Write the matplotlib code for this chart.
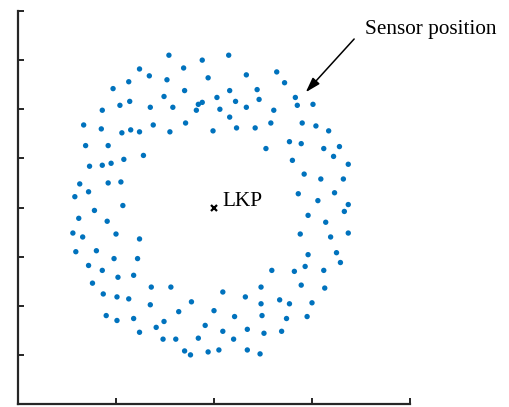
import matplotlib
matplotlib.use("Agg")
import matplotlib.pyplot as plt
import numpy as np

# sensor positions around the last known position (LKP)
sensor_x = [
    -46, -76, -66, -48, -87, -103, -51, -86, -96, -65, -114, -133, -115, -94, -85, -76, -62, -45,
    15, -12, -31, 33, 64, -6, 72, -30, 16, 44, 3, 46, 83, 22, -12, -16, -18, -42, 6, 33, 61, 85,
    101, 16, -29, 58, 90, 104, 117, -1, 23, 42,
    -131, -108, -72, -92, -105, -114, -127, -137, -108, -95, -128, -142, -93, -122, -138, -109,
    -144, -134, -100, -76, -141, -120, -102, -78, -128, -114,
    53, 77, 89, 112, 122, 128, 80, 92, 109, 86, 106, 123, 96, 114, 88, 119, 96, 125, 129, 93,
    112, 82, 59,
    137, 132, 137, 133, 137,
    -98, -82, -124, -64, -113, -99, -87, -65, -110, -99, -82, -76, -59, -51, -52,
    -44, 9, 48, 89, 113, -23, 32, 48, 67, 77, 100, -36, 0, 21, 49, 74, 95, -9, -39, -16, 9, 34,
    20, 51, 69, -30, -24, -6, 5, 34, 47,
]
sensor_y = [
    155, 141, 134, 130, 128, 121, 113, 108, 104, 102, 99, 84, 80, 76, 79, 77, 84, 77,
    155, 150, 142, 135, 138, 132, 127, 119, 119, 120, 112, 110, 112, 108, 107, 105, 99, 102, 100,
    102, 99, 104, 105, 92, 86, 86, 86, 83, 78, 78, 81, 81,
    63, 63, 53, 49, 45, 43, 42, 24, 25, 26, 16, 11, 2, -3, -11, -14, -26, -30, -27, -32, -45,
    -44, -52, -52, -59, -64,
    60, 67, 65, 60, 52, 62, 48, 34, 29, 14, 7, 15, -8, -15, -27, -30, -48, -46, -56, -60, -64,
    -65, -64,
    44, 29, 3, -4, -26,
    -71, -69, -77, -81, -88, -91, -93, -99, -110, -115, -113, -127, -122, -116, -134,
    -81, -86, -81, -79, -82, -96, -91, -98, -94, -98, -97, -106, -105, -111, -110, -113, -111,
    -120, -134, -133, -126, -124, -134, -128, -126, -146, -150, -147, -145, -145, -149,
]
lkp = (0, 0)

plt.rcParams["font.family"] = ["Liberation Serif", "DejaVu Serif"]

fig = plt.figure(figsize=(5.1, 4.07), dpi=100)
ax = fig.add_axes([18 / 510, 3 / 407, 392 / 510, 393 / 407])

ax.scatter(sensor_x, sensor_y, s=15, color="#0072BD", edgecolors="none", zorder=3)
ax.plot(lkp[0], lkp[1], marker="x", color="black", markersize=4.5, mew=1.6, zorder=4)
ax.text(lkp[0] + 9, lkp[1] + 1.5, "LKP", fontsize=15.3, ha="left", va="baseline")

ax.text(154, 177, "Sensor position", fontsize=15.3, ha="left", va="baseline")
ax.annotate("", xy=(93.6, 117.3), xytext=(143, 171.5),
            arrowprops=dict(arrowstyle="-|>,head_length=0.9,head_width=0.28",
                            color="black", lw=1.1, shrinkA=0, shrinkB=0))

ax.set_xlim(-200, 200)
ax.set_ylim(-200, 200)
ax.set_xticks(np.arange(-200, 201, 100))
ax.set_yticks(np.arange(-200, 201, 50))
ax.set_xticklabels([])
ax.set_yticklabels([])
ax.tick_params(direction="in", length=4, width=1.4, color="#262626")
for side in ["top", "right"]:
    ax.spines[side].set_visible(False)
for side in ["left", "bottom"]:
    ax.spines[side].set_linewidth(1.6)
    ax.spines[side].set_color("#262626")

fig.savefig("out.png", dpi=100)
